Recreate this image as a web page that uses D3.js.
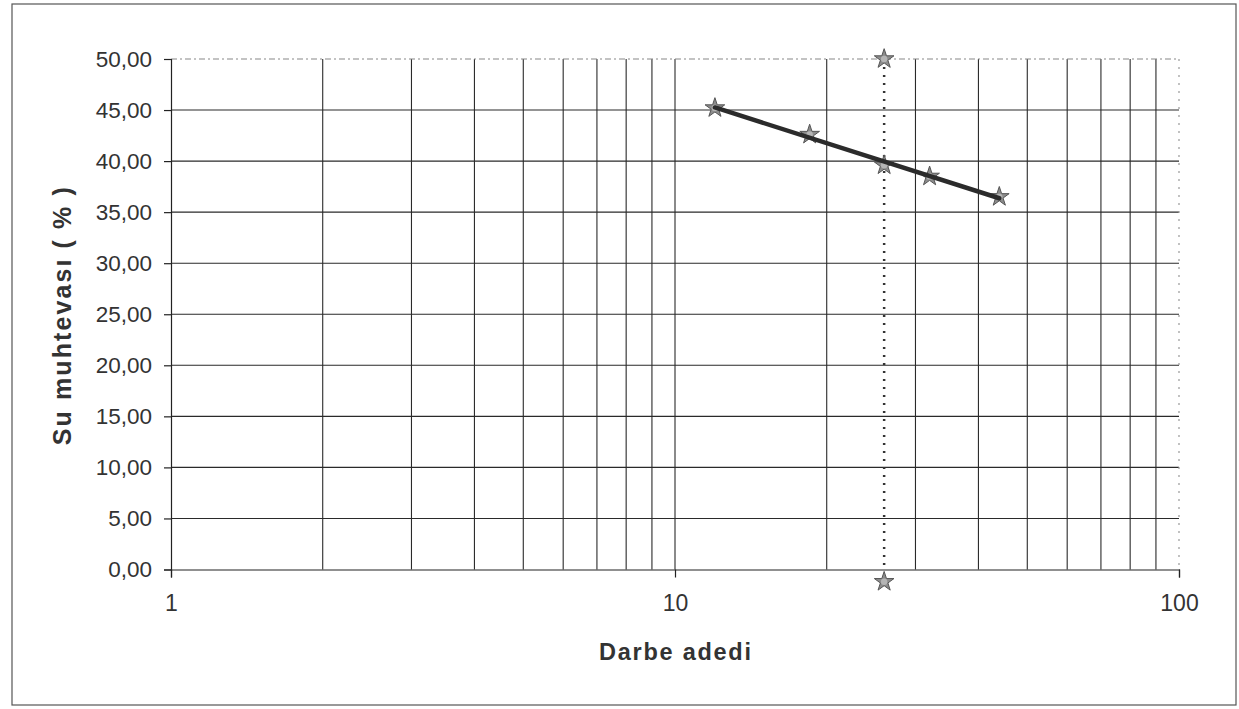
<!DOCTYPE html>
<html>
<head>
<meta charset="utf-8">
<script src="https://cdn.jsdelivr.net/npm/d3@7"></script>
<style>
  html, body { margin: 0; padding: 0; background: #fff; }
  svg { display: block; }
  text { font-family: "Liberation Sans", Arial, sans-serif; fill: #333; }
</style>
</head>
<body>
<svg id="chart" width="1239" height="709"></svg>
<script>
// Blow counts (Darbe adedi) and water contents (Su muhtevası, %)
const blowCounts = [12, 18.5, 26, 32, 44];
const waterContents = [45.2, 42.6, 39.6, 38.5, 36.5];

// Vertical reference line at N = 26
const refLineX = [26, 26];
const refLineY = [50, -1.2];

// Axis ticks and labels
const yTicks = [0, 5, 10, 15, 20, 25, 30, 35, 40, 45, 50];
const yTickLabels = ["0,00", "5,00", "10,00", "15,00", "20,00", "25,00", "30,00", "35,00", "40,00", "45,00", "50,00"];
const xTicks = [1, 10, 100];
const xTickLabels = ["1", "10", "100"];
const xGridValues = [2, 3, 4, 5, 6, 7, 8, 9, 10, 20, 30, 40, 50, 60, 70, 80, 90];

const yTitle = "Su muhtevası ( % )";
const xTitle = "Darbe adedi";

const svg = d3.select("#chart");

const plot = { left: 171, right: 1179, top: 59, bottom: 569.5 };

const x = d3.scaleLog().domain([1, 100]).range([plot.left, plot.right]);
const y = d3.scaleLinear().domain([0, 50]).range([plot.bottom, plot.top]);

// Outer frame
svg.append("rect")
  .attr("x", 12).attr("y", 4)
  .attr("width", 1224).attr("height", 701)
  .attr("fill", "none").attr("stroke", "#555").attr("stroke-width", 1.2);

// Horizontal gridlines
svg.append("g")
  .selectAll("line")
  .data(yTicks.filter(v => v > 0 && v < 50))
  .join("line")
  .attr("x1", plot.left).attr("x2", plot.right)
  .attr("y1", d => y(d)).attr("y2", d => y(d))
  .attr("stroke", "#2a2a2a").attr("stroke-width", 1.1);

// Vertical gridlines
svg.append("g")
  .selectAll("line")
  .data(xGridValues)
  .join("line")
  .attr("x1", d => x(d)).attr("x2", d => x(d))
  .attr("y1", plot.top).attr("y2", plot.bottom)
  .attr("stroke", "#2a2a2a").attr("stroke-width", 1.1);

// Plot area top and right edges (light dashed)
svg.append("line")
  .attr("x1", plot.left).attr("x2", plot.right)
  .attr("y1", y(50)).attr("y2", y(50))
  .attr("stroke", "#888").attr("stroke-width", 1.2)
  .attr("stroke-dasharray", "6,3,2,3");
svg.append("line")
  .attr("x1", x(100)).attr("x2", x(100))
  .attr("y1", plot.top).attr("y2", plot.bottom)
  .attr("stroke", "#999").attr("stroke-width", 1.2)
  .attr("stroke-dasharray", "2,6");

// Y axis
const yAxis = d3.axisLeft(y)
  .tickValues(yTicks)
  .tickSize(7)
  .tickPadding(12)
  .tickFormat((d, i) => yTickLabels[i]);
const gy = svg.append("g")
  .attr("transform", `translate(${plot.left},0)`)
  .call(yAxis);
gy.select(".domain").attr("stroke", "#222").attr("stroke-width", 1.2);
gy.selectAll(".tick line").attr("stroke", "#222").attr("stroke-width", 1.2);
gy.selectAll(".tick text")
  .style("font-family", "'Liberation Sans', Arial, sans-serif")
  .style("font-size", "22.5px")
  .attr("fill", "#333");

// X axis
const xAxis = d3.axisBottom(x)
  .tickValues(xTicks)
  .tickSize(8)
  .tickPadding(17)
  .tickFormat((d, i) => xTickLabels[i]);
const gx = svg.append("g")
  .attr("transform", `translate(0,${plot.bottom})`)
  .call(xAxis);
gx.select(".domain").attr("stroke", "#222").attr("stroke-width", 1.2);
gx.selectAll(".tick line").attr("stroke", "#222").attr("stroke-width", 1.2);
gx.selectAll(".tick text")
  .style("font-family", "'Liberation Sans', Arial, sans-serif")
  .style("font-size", "23px")
  .attr("fill", "#333");

// Axis titles
svg.append("text")
  .attr("transform", `translate(64,${(plot.top + plot.bottom) / 2 + 2}) rotate(-90)`)
  .attr("text-anchor", "middle")
  .attr("dominant-baseline", "middle")
  .attr("textLength", 258)
  .attr("lengthAdjust", "spacing")
  .style("font-size", "25px")
  .style("font-weight", "bold")
  .text(yTitle);

svg.append("text")
  .attr("x", x(10))
  .attr("y", 660)
  .attr("text-anchor", "middle")
  .attr("textLength", 152)
  .attr("lengthAdjust", "spacing")
  .style("font-size", "23.5px")
  .style("font-weight", "bold")
  .text(xTitle);

// Clip to plot area for the dotted reference line
svg.append("clipPath").attr("id", "plotClip")
  .append("rect")
  .attr("x", plot.left).attr("y", plot.top - 2)
  .attr("width", plot.right - plot.left).attr("height", plot.bottom - plot.top + 2);

const refPts = refLineX.map((v, i) => [v, refLineY[i]]);
svg.append("path")
  .datum(refPts)
  .attr("clip-path", "url(#plotClip)")
  .attr("d", d3.line().x(d => x(d[0])).y(d => y(d[1])))
  .attr("fill", "none")
  .attr("stroke", "#333")
  .attr("stroke-width", 2.5)
  .attr("stroke-dasharray", "2,6");

// Linear trend of water content against log10(blow count)
const lx = blowCounts.map(Math.log10);
const mx = d3.mean(lx), my = d3.mean(waterContents);
const slope = d3.sum(lx, (v, i) => (v - mx) * (waterContents[i] - my)) /
              d3.sum(lx, v => (v - mx) * (v - mx));
const intercept = my - slope * mx;
const trendX = d3.extent(blowCounts);
const trendPts = trendX.map(n => [n, intercept + slope * Math.log10(n)]);

// Markers
function drawMarker(g, px, py) {
  const m = g.append("g").attr("transform", `translate(${px},${py})`);
  m.append("path")
    .attr("d", d3.symbol(d3.symbolStar).size(120)())
    .attr("fill", "#8c8c8c")
    .attr("stroke", "#555")
    .attr("stroke-width", 1);
  m.append("circle")
    .attr("r", 3.2)
    .attr("fill", "#b5b5b5");
}

const mg = svg.append("g");
blowCounts.forEach((n, i) => drawMarker(mg, x(n), y(waterContents[i])));
refPts.forEach(p => drawMarker(mg, x(p[0]), y(p[1])));

// Trend line on top of markers
svg.append("path")
  .datum(trendPts)
  .attr("d", d3.line().x(d => x(d[0])).y(d => y(d[1])))
  .attr("fill", "none")
  .attr("stroke", "#2b2b2b")
  .attr("stroke-width", 4.5)
  .attr("stroke-linecap", "round");
</script>
</body>
</html>
